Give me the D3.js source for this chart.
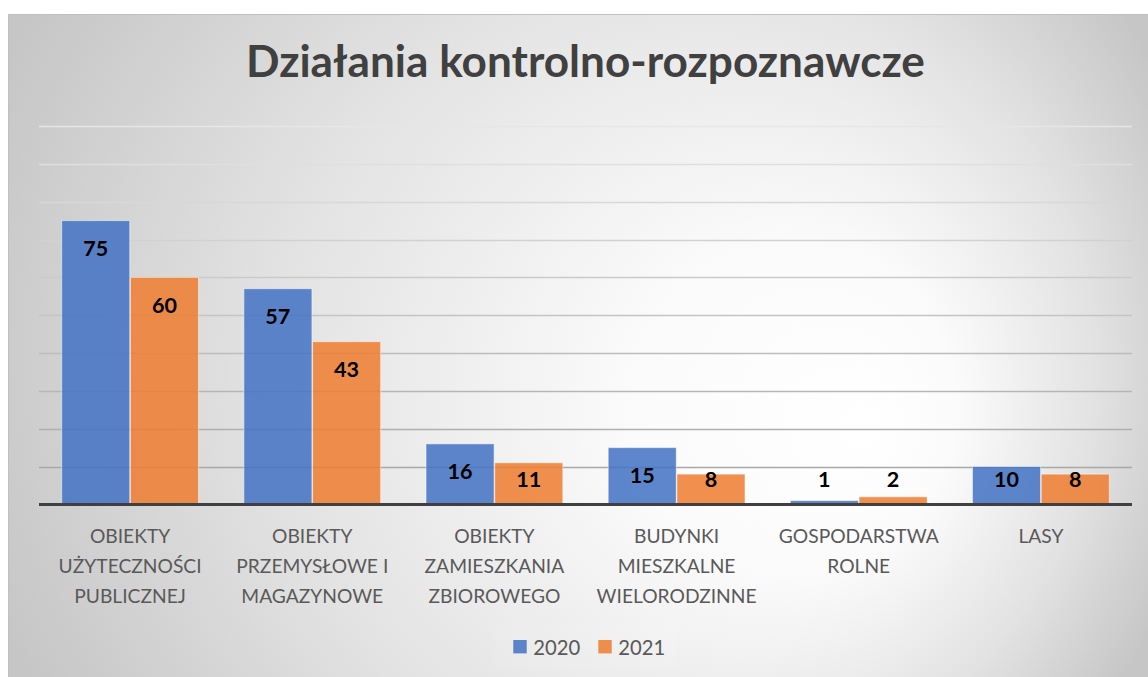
<!DOCTYPE html>
<html>
<head>
<meta charset="utf-8">
<script src="https://cdnjs.cloudflare.com/ajax/libs/d3/7.8.5/d3.min.js"></script>
<style>
  html, body { margin: 0; padding: 0; background: #ffffff; }
  svg { display: block; }
</style>
</head>
<body>
<svg id="chart" width="1148" height="677"></svg>
<script>
// ---- data ----
const title = "Działania kontrolno-rozpoznawcze";
const categories = [
  "OBIEKTY UŻYTECZNOŚCI PUBLICZNEJ",
  "OBIEKTY PRZEMYSŁOWE I MAGAZYNOWE",
  "OBIEKTY ZAMIESZKANIA ZBIOROWEGO",
  "BUDYNKI MIESZKALNE WIELORODZINNE",
  "GOSPODARSTWA ROLNE",
  "LASY"
];
const categoryLines = [
  ["OBIEKTY", "UŻYTECZNOŚCI", "PUBLICZNEJ"],
  ["OBIEKTY", "PRZEMYSŁOWE I", "MAGAZYNOWE"],
  ["OBIEKTY", "ZAMIESZKANIA", "ZBIOROWEGO"],
  ["BUDYNKI", "MIESZKALNE", "WIELORODZINNE"],
  ["GOSPODARSTWA", "ROLNE"],
  ["LASY"]
];
const seriesNames = ["2020", "2021"];
const values2020 = [75, 57, 16, 15, 1, 10];
const values2021 = [60, 43, 11, 8, 2, 8];
const gridTicks = [0, 10, 20, 30, 40, 50, 60, 70, 80, 90, 100];

// ---- layout ----
const W = 1148, H = 677;
const frame = { x: 8, y: 14, w: 1145, h: 670 };
const plot = { left: 39, right: 1132, top: 126, bottom: 504.4 };
const colors = { "2020": "#4472C4", "2021": "#ED7D31" };
const FONT = "Lato, 'Open Sans', 'Noto Sans', sans-serif";

const svg = d3.select("#chart");

// measuring helper to fit font sizes to widths
function fitSize(text, weight, target) {
  const t = svg.append("text").attr("font-family", FONT).attr("font-weight", weight)
    .attr("font-size", 100).text(text);
  const len = t.node().getComputedTextLength();
  t.remove();
  return 100 * target / len;
}

// background gradient
const defs = svg.append("defs");
const grad = defs.append("radialGradient").attr("id", "bg")
  .attr("gradientUnits", "userSpaceOnUse")
  .attr("cx", 578).attr("cy", 345).attr("r", 640)
  .attr("fx", 870).attr("fy", 430);
grad.append("stop").attr("offset", "0").attr("stop-color", "#ffffff");
grad.append("stop").attr("offset", "0.25").attr("stop-color", "#fbfbfb");
grad.append("stop").attr("offset", "0.65").attr("stop-color", "#e2e2e2");
grad.append("stop").attr("offset", "1").attr("stop-color", "#c6c6c6");

svg.append("rect")
  .attr("x", frame.x + 0.5).attr("y", frame.y + 0.5)
  .attr("width", frame.w).attr("height", frame.h)
  .attr("fill", "url(#bg)")
  .attr("stroke", "#c0c0c0").attr("stroke-width", 1);

// scales
const x0 = d3.scaleBand().domain(categories).range([plot.left, plot.right]).padding(0);
const x1 = d3.scaleBand().domain(seriesNames).range([0, x0.bandwidth()])
  .paddingInner(0.01).paddingOuter(0.33);
const y = d3.scaleLinear().domain([0, 100]).range([plot.bottom, plot.top]);

// gridlines (lighter toward the top)
const gridColor = d3.scaleLinear().domain([10, 100]).range(["#a8a8a8", "#e6e6e6"]);
svg.append("g").selectAll("line")
  .data(gridTicks.filter(d => d > 0))
  .join("line")
  .attr("x1", plot.left).attr("x2", plot.right)
  .attr("y1", d => Math.round(y(d)) + 0.5).attr("y2", d => Math.round(y(d)) + 0.5)
  .attr("stroke", d => gridColor(d)).attr("stroke-width", 1.5);

// bars
const rows = categories.map((c, i) => ({ cat: c, i, vals: [
  { s: "2020", v: values2020[i] }, { s: "2021", v: values2021[i] }] }));

const groups = svg.append("g").selectAll("g")
  .data(rows).join("g")
  .attr("transform", d => `translate(${x0(d.cat)},0)`);

groups.selectAll("rect")
  .data(d => d.vals).join("rect")
  .attr("x", d => x1(d.s))
  .attr("width", x1.bandwidth())
  .attr("y", d => y(d.v))
  .attr("height", d => y(0) - y(d.v))
  .attr("fill", d => colors[d.s])
  .attr("fill-opacity", 0.86)
  .attr("stroke", "#ffffff").attr("stroke-opacity", 0.5).attr("stroke-width", 1);

// baseline axis
svg.append("line")
  .attr("x1", plot.left).attr("x2", plot.right)
  .attr("y1", y(0)).attr("y2", y(0))
  .attr("stroke", "#404040").attr("stroke-width", 3);

// data labels
const labelSize = fitSize("75", 700, 25);
groups.selectAll("text.val")
  .data(d => d.vals).join("text")
  .attr("class", "val")
  .attr("x", d => x1(d.s) + x1.bandwidth() / 2)
  .attr("y", d => Math.min(y(d.v) + 35.5, y(0) - 17.5))
  .attr("text-anchor", "middle")
  .attr("font-family", FONT).attr("font-weight", 700)
  .attr("font-size", labelSize)
  .attr("fill", "#000000")
  .text(d => d.v);

// category labels
const catSize = fitSize("UŻYTECZNOŚCI", 400, 143);
const catG = svg.append("g");
categories.forEach((c, i) => {
  const t = catG.append("text")
    .attr("x", x0(c) + x0.bandwidth() / 2)
    .attr("y", 543.3)
    .attr("text-anchor", "middle")
    .attr("font-family", FONT).attr("font-size", catSize)
    .attr("fill", "#595959");
  categoryLines[i].forEach((ln, k) => {
    t.append("tspan").attr("x", x0(c) + x0.bandwidth() / 2)
      .attr("y", 543.3 + k * 30).text(ln);
  });
});

// title
const titleSize = fitSize(title, 700, 679);
svg.append("text")
  .attr("x", 585.5).attr("y", 77)
  .attr("text-anchor", "middle")
  .attr("font-family", FONT).attr("font-weight", 700)
  .attr("font-size", titleSize)
  .attr("fill", "#404040")
  .text(title);

// legend
const legSize = fitSize("2020", 400, 47);
svg.append("rect").attr("x", 495).attr("y", 625).attr("width", 182).attr("height", 45)
  .attr("fill", "#ffffff").attr("fill-opacity", 0.08);
const leg = svg.append("g").attr("transform", "translate(513.3,640)");
seriesNames.forEach((s, i) => {
  const g = leg.append("g").attr("transform", `translate(${i * 85},0)`);
  g.append("rect").attr("width", 13.4).attr("height", 13.4)
    .attr("fill", colors[s]).attr("fill-opacity", 0.86);
  g.append("text").attr("x", 20).attr("y", 15)
    .attr("font-family", FONT).attr("font-size", legSize)
    .attr("fill", "#595959").text(s);
});
</script>
</body>
</html>
